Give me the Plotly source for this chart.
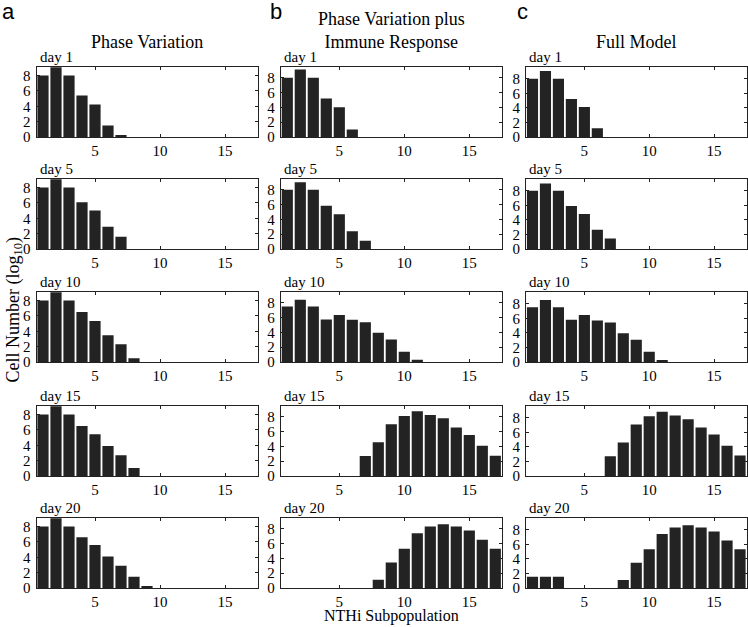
import plotly.graph_objects as go

subpops = list(range(1, 18))
days = ["day 1", "day 5", "day 10", "day 15", "day 20"]
col_titles = ["Phase Variation", "Phase Variation plus<br>Immune Response", "Full Model"]
panel_letters = ["a", "b", "c"]

def pad(v):
    return v + [0] * (17 - len(v))

# Column a: Phase Variation
phase_var = [
    pad([8.0, 9.1, 8.0, 5.4, 4.25, 1.5, 0.25]),
    pad([8.0, 9.1, 8.0, 6.1, 5.0, 2.9, 1.6]),
    pad([8.0, 9.1, 8.0, 6.5, 5.35, 3.5, 2.3, 0.5]),
    pad([8.0, 9.1, 8.0, 6.5, 5.45, 3.9, 2.7, 1.05]),
    pad([8.0, 9.1, 8.0, 6.6, 5.6, 4.1, 2.9, 1.45, 0.15]),
]
# Column b: Phase Variation plus Immune Response
phase_immune = [
    pad([8.0, 9.1, 8.0, 5.2, 4.0, 1.0]),
    pad([8.0, 9.0, 8.0, 5.85, 4.7, 2.4, 1.1]),
    pad([7.5, 8.4, 7.5, 5.75, 6.35, 5.7, 5.35, 3.95, 3.05, 1.4, 0.3]),
    [0, 0, 0, 0, 0, 0, 2.7, 4.55, 7.0, 8.1, 8.75, 8.25, 7.8, 6.55, 5.55, 4.1, 2.75],
    [0, 0, 0, 0, 0, 0, 0, 1.1, 3.45, 5.3, 7.4, 8.3, 8.6, 8.3, 7.75, 6.5, 5.3],
]
# Column c: Full Model
full_model = [
    pad([8.0, 9.05, 8.0, 5.2, 4.1, 1.2]),
    pad([8.0, 9.0, 8.0, 5.9, 4.8, 2.65, 1.45]),
    pad([7.5, 8.5, 7.5, 5.8, 6.45, 5.7, 5.4, 3.95, 3.05, 1.4, 0.25]),
    [0, 0, 0, 0, 0, 0, 2.7, 4.6, 7.05, 8.2, 8.8, 8.3, 7.8, 6.65, 5.7, 4.15, 2.8],
    [1.55, 1.55, 1.55, 0, 0, 0, 0, 1.1, 3.45, 5.3, 7.4, 8.3, 8.6, 8.3, 7.75, 6.5, 5.3],
]
columns = [phase_var, phase_immune, full_model]
y_max = [9.12, 9.45, 9.6]

x_tick_vals = [5, 10, 15]
y_tick_vals = [0, 2, 4, 6, 8]

W, H = 748, 627
col_px = [(36.5, 257.5), (280.8, 501.8), (526.0, 746.5)]
row_px = [(67, 137), (179, 249), (292, 362), (406, 476), (518, 588)]

SERIF = "Liberation Serif, Times New Roman, serif"
fig = go.Figure()
layout = dict(
    width=W, height=H, autosize=False, margin=dict(l=0, r=0, t=0, b=0, pad=0),
    paper_bgcolor="white", plot_bgcolor="white", showlegend=False,
    font=dict(family=SERIF, size=15, color="black"),
)
annotations = []
n = 0
for c in range(3):
    for r in range(5):
        n += 1
        xa = "x" if n == 1 else f"x{n}"
        ya = "y" if n == 1 else f"y{n}"
        fig.add_trace(go.Bar(x=subpops, y=columns[c][r], xaxis=xa, yaxis=ya,
                             marker=dict(color="#232323", line=dict(width=0)),
                             width=0.86, hoverinfo="x+y"))
        x0, x1 = col_px[c]
        y0, y1 = row_px[r]
        common = dict(showline=True, linecolor="#222", linewidth=1, mirror="ticks",
                      ticks="inside", ticklen=3, tickcolor="#222", showgrid=False,
                      zeroline=False, automargin=False,
                      tickfont=dict(family=SERIF, size=15, color="black"))
        layout["xaxis" if n == 1 else f"xaxis{n}"] = dict(
            domain=[x0 / W, x1 / W], range=[0.5, 17.5], tickvals=x_tick_vals,
            anchor=ya, ticklabelstandoff=0, **common)
        layout["yaxis" if n == 1 else f"yaxis{n}"] = dict(
            domain=[1 - y1 / H, 1 - y0 / H], range=[0, y_max[c]], tickvals=y_tick_vals,
            anchor=xa, ticklabelstandoff=2, **common)
        annotations.append(dict(text=days[r], xref=f"{xa} domain", yref=f"{ya} domain",
                                x=0.005, y=1.0, xanchor="left", yanchor="bottom", yshift=0,
                                showarrow=False, font=dict(family=SERIF, size=15)))

col_centers = [(a + b) / 2 / W for a, b in col_px]
for c in range(3):
    annotations.append(dict(text=col_titles[c], xref="paper", yref="paper",
                            x=col_centers[c], y=1 - 54 / H, xanchor="center", yanchor="bottom",
                            showarrow=False, font=dict(family=SERIF, size=18)))
letter_x = [0, 268, 515]
for c in range(3):
    annotations.append(dict(text=panel_letters[c], xref="paper", yref="paper",
                            x=letter_x[c] / W, y=1.0, xanchor="left", yanchor="top", yshift=3,
                            showarrow=False,
                            font=dict(family="Liberation Sans, Arial, sans-serif", size=22)))
annotations.append(dict(text="NTHi Subpopulation", xref="paper", yref="paper",
                        x=391 / W, y=1 - 616 / H, xanchor="center", yanchor="middle",
                        borderpad=0, showarrow=False, font=dict(family=SERIF, size=16)))
annotations.append(dict(text="Cell Number (log<sub>10</sub>)", xref="paper", yref="paper",
                        x=0 / W, y=1 - 310 / H, xanchor="left", yanchor="middle",
                        textangle=-90, showarrow=False, font=dict(family=SERIF, size=18)))
layout["annotations"] = annotations
fig.update_layout(**layout)
fig.write_html("out.html", config={"displayModeBar": False},
               post_script="document.body.style.margin='0px';document.body.style.overflow='hidden';")
